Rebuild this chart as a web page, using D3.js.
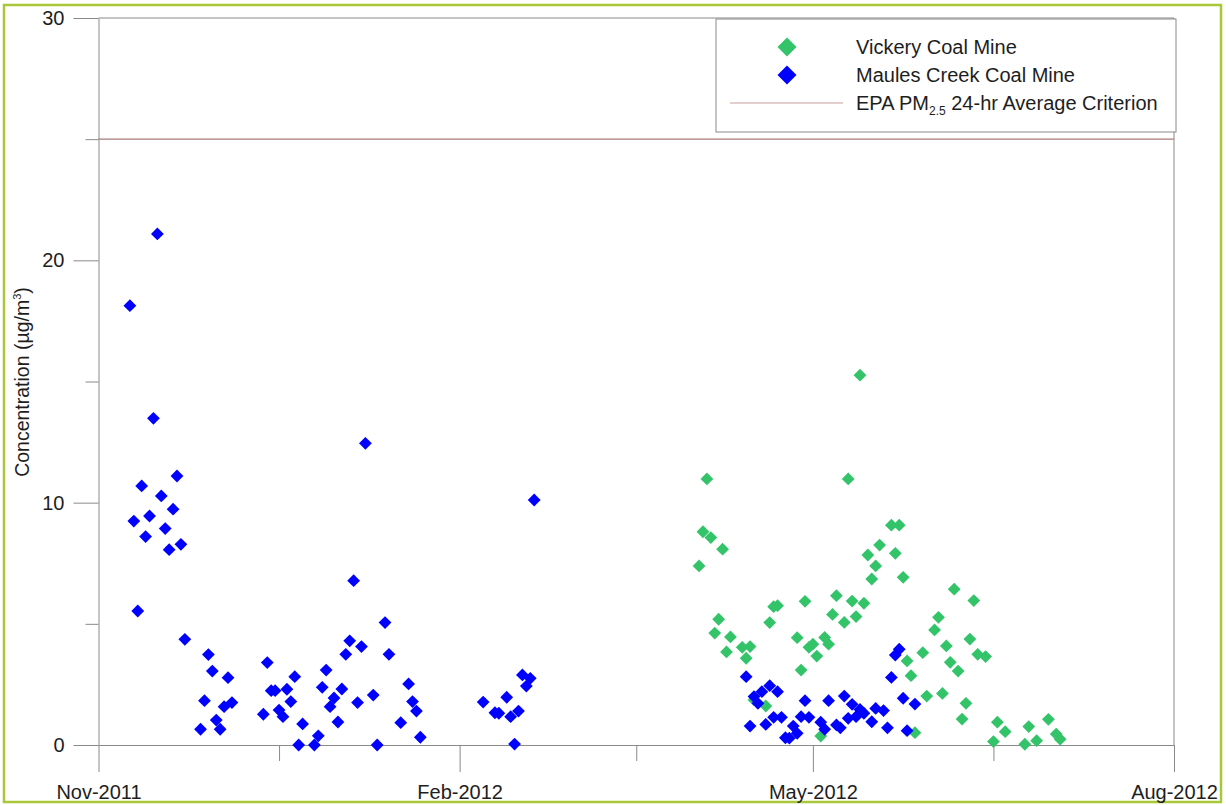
<!DOCTYPE html>
<html>
<head>
<meta charset="utf-8">
<script src="https://cdn.jsdelivr.net/npm/d3@7/dist/d3.min.js"></script>
<style>
  html, body { margin: 0; padding: 0; background: #fff; }
  svg { display: block; font-family: "Liberation Sans", Arial, sans-serif; }
</style>
</head>
<body>
<svg id="chart" width="1226" height="805"></svg>
<script>
// PM2.5 24-hour average concentrations (µg/m³) at two monitoring sites
const vickeryDates = [
  "2012-04-02","2012-04-03","2012-04-04","2012-04-05","2012-04-06","2012-04-07","2012-04-08",
  "2012-04-09","2012-04-10","2012-04-13","2012-04-14","2012-04-15","2012-04-16","2012-04-19",
  "2012-04-20","2012-04-21","2012-04-22","2012-04-27","2012-04-28","2012-04-29","2012-04-30",
  "2012-05-01","2012-05-02","2012-05-03","2012-05-04","2012-05-05","2012-05-06","2012-05-07",
  "2012-05-09","2012-05-10","2012-05-11","2012-05-12","2012-05-13","2012-05-14","2012-05-15",
  "2012-05-16","2012-05-17","2012-05-18","2012-05-21","2012-05-22","2012-05-23","2012-05-24",
  "2012-05-25","2012-05-26","2012-05-27","2012-05-29","2012-05-30","2012-06-01","2012-06-02",
  "2012-06-03","2012-06-04","2012-06-05","2012-06-06","2012-06-07","2012-06-08","2012-06-09",
  "2012-06-10","2012-06-11","2012-06-12","2012-06-14","2012-06-16","2012-06-17","2012-06-19",
  "2012-06-24","2012-06-25","2012-06-27","2012-06-30","2012-07-02","2012-07-03"
];
const vickeryValues = [
  7.39, 8.80, 10.98, 8.56, 4.62, 5.19, 8.08,
  3.84, 4.46, 4.03, 3.58, 4.06, 1.86, 1.61,
  5.05, 5.71, 5.75, 4.43, 3.09, 5.93, 4.03,
  4.16, 3.67, 0.37, 4.44, 4.16, 5.39, 6.16,
  5.06, 10.98, 5.94, 5.30, 15.26, 5.85, 7.84,
  6.85, 7.39, 8.25, 9.07, 7.91, 9.07, 6.92,
  3.47, 2.86, 0.51, 3.81, 2.02, 4.75, 5.27,
  2.13, 4.09, 3.41, 6.43, 3.05, 1.07, 1.72,
  4.37, 5.96, 3.74, 3.65, 0.14, 0.94, 0.55,
  0.03, 0.76, 0.18, 1.06, 0.45, 0.24
];

const maulesDates = [
  "2011-11-09","2011-11-10","2011-11-11","2011-11-12","2011-11-13","2011-11-14","2011-11-15",
  "2011-11-16","2011-11-17","2011-11-18","2011-11-19","2011-11-20","2011-11-21","2011-11-22",
  "2011-11-23","2011-11-27","2011-11-28","2011-11-29","2011-11-30","2011-12-01","2011-12-02",
  "2011-12-03","2011-12-04","2011-12-05","2011-12-13","2011-12-14","2011-12-15","2011-12-16",
  "2011-12-17","2011-12-18","2011-12-19","2011-12-20","2011-12-21","2011-12-22","2011-12-23",
  "2011-12-26","2011-12-27","2011-12-28","2011-12-29","2011-12-30","2011-12-31","2012-01-01",
  "2012-01-02","2012-01-03","2012-01-04","2012-01-05","2012-01-06","2012-01-07","2012-01-08",
  "2012-01-10","2012-01-11","2012-01-13","2012-01-14","2012-01-17","2012-01-19","2012-01-20",
  "2012-01-21","2012-01-22","2012-02-07","2012-02-10","2012-02-11","2012-02-13","2012-02-14",
  "2012-02-15","2012-02-16","2012-02-17","2012-02-18","2012-02-19","2012-02-20",
  "2012-04-14","2012-04-15","2012-04-16","2012-04-17","2012-04-18","2012-04-19","2012-04-20",
  "2012-04-21","2012-04-22","2012-04-23","2012-04-24","2012-04-25","2012-04-26","2012-04-27",
  "2012-04-28","2012-04-29","2012-04-30","2012-05-03","2012-05-04","2012-05-05","2012-05-07",
  "2012-05-08","2012-05-09","2012-05-10","2012-05-11","2012-05-12","2012-05-13","2012-05-14",
  "2012-05-16","2012-05-17","2012-05-19","2012-05-20","2012-05-21","2012-05-22","2012-05-23",
  "2012-05-24","2012-05-25","2012-05-27"
];
const maulesValues = [
  18.13, 9.24, 5.53, 10.69, 8.60, 9.45, 13.48,
  21.09, 10.28, 8.93, 8.06, 9.73, 11.10, 8.28,
  4.36, 0.65, 1.83, 3.73, 3.05, 1.03, 0.65,
  1.58, 2.78, 1.75, 1.27, 3.40, 2.24, 2.24,
  1.44, 1.17, 2.30, 1.79, 2.82, 0.00, 0.87,
  0.00, 0.38, 2.38, 3.09, 1.58, 1.94, 0.95,
  2.31, 3.74, 4.30, 6.78, 1.75, 4.06, 12.45,
  2.06, 0.00, 5.05, 3.74, 0.92, 2.52, 1.79,
  1.40, 0.32, 1.77, 1.33, 1.31, 1.97, 1.17,
  0.04, 1.40, 2.89, 2.43, 2.75, 10.11,
  2.82, 0.78, 2.00, 1.72, 2.20, 0.85, 2.45,
  1.14, 2.20, 1.14, 0.30, 0.28, 0.78, 0.48,
  1.17, 1.83, 1.14, 0.94, 0.65, 1.83, 0.83,
  0.71, 2.02, 1.10, 1.68, 1.17, 1.47, 1.31,
  0.96, 1.51, 1.42, 0.71, 2.79, 3.71, 3.95,
  1.93, 0.59, 1.69
];

const criterionValue = 25;
const xTickDates = ["2011-11-01", "2012-02-01", "2012-05-01", "2012-08-01"];
const yTickValues = [0, 10, 20, 30];
const yMinorTicks = [5, 15, 25];
const seriesNames = ["Vickery Coal Mine", "Maules Creek Coal Mine"];
const seriesColors = ["#33c46a", "#0000ff"];

const parse = d3.timeParse("%Y-%m-%d");
const fmt = d3.timeFormat("%b-%Y");

const svg = d3.select("#chart");
const axisColor = "#8a8a8a";
const textColor = "#1e1e1e";
const criterionColor = "#a97a7a";

// outer frame
svg.append("rect")
  .attr("x", 4).attr("y", 5).attr("width", 1217).attr("height", 797)
  .attr("fill", "#fff").attr("stroke", "#a8c83a").attr("stroke-width", 2.5);

const xTicks = xTickDates.map(parse);
const x = d3.scaleTime().domain([xTicks[0], xTicks[xTicks.length - 1]]).range([98.5, 1174]);
const y = d3.scaleLinear().domain([0, 30]).range([745, 18]);

// minor x ticks halfway between the labelled months
const xMinor = d3.pairs(xTicks).map(([a, b]) => new Date((+a + +b) / 2));

// plot frame: top and right edges
svg.append("path")
  .attr("d", `M${x.range()[0]},${y(30)}H${x.range()[1]}V${y(0)}`)
  .attr("fill", "none").attr("stroke", axisColor).attr("stroke-width", 1);

// criterion line
svg.append("line")
  .attr("x1", x.range()[0]).attr("x2", x.range()[1])
  .attr("y1", y(criterionValue)).attr("y2", y(criterionValue))
  .attr("stroke", criterionColor).attr("stroke-width", 1.2);

// y axis
svg.append("g").attr("transform", `translate(${x.range()[0]},0)`)
  .call(d3.axisLeft(y).tickValues(yTickValues).tickSize(25).tickSizeOuter(0).tickPadding(9));
svg.append("g").attr("transform", `translate(${x.range()[0]},0)`)
  .call(d3.axisLeft(y).tickValues(yMinorTicks).tickSize(13).tickSizeOuter(0).tickFormat(""))
  .select(".domain").remove();

// x axis
svg.append("g").attr("transform", `translate(0,${y(0)})`)
  .call(d3.axisBottom(x).tickValues(xTicks).tickFormat(fmt).tickSize(27).tickSizeOuter(0).tickPadding(13));
svg.append("g").attr("transform", `translate(0,${y(0)})`)
  .call(d3.axisBottom(x).tickValues(xMinor).tickSize(16).tickSizeOuter(0).tickFormat(""))
  .select(".domain").remove();

svg.selectAll(".domain, .tick line").attr("stroke", axisColor).attr("stroke-width", 1);
svg.selectAll(".tick text").attr("fill", textColor).style("font-size", "20px")
  .style("font-family", "'Liberation Sans', Arial, sans-serif");

// y axis title
const title = svg.append("text")
  .attr("transform", "translate(29,382) rotate(-90)")
  .attr("text-anchor", "middle")
  .attr("fill", textColor)
  .style("font-size", "19.5px");
title.append("tspan").text("Concentration (µg/m");
title.append("tspan").text("3").style("font-size", "11px").attr("dy", -8);
title.append("tspan").text(")").attr("dy", 8);

// points
const diamond = (size) => d3.symbol().type(d3.symbolSquare).size(size)();
const series = [
  { name: seriesNames[0], color: seriesColors[0], dates: vickeryDates, values: vickeryValues },
  { name: seriesNames[1], color: seriesColors[1], dates: maulesDates, values: maulesValues }
];
series.forEach(s => {
  const pts = s.dates.map((d, i) => ({ date: parse(d), value: s.values[i] }));
  svg.append("g").selectAll("path").data(pts).join("path")
    .attr("d", diamond(82))
    .attr("transform", d => `translate(${x(d.date)},${y(d.value)}) rotate(45)`)
    .attr("fill", s.color);
});

// legend
const lg = svg.append("g");
lg.append("rect").attr("x", 716).attr("y", 19).attr("width", 460).attr("height", 113)
  .attr("fill", "#fff").attr("stroke", "#8a8a8a").attr("stroke-width", 1);
series.forEach((s, i) => {
  const cy = 47 + i * 28;
  lg.append("path").attr("d", diamond(180))
    .attr("transform", `translate(787,${cy}) rotate(45)`).attr("fill", s.color);
  lg.append("text").attr("x", 856).attr("y", cy).attr("dy", "0.35em")
    .attr("fill", textColor).style("font-size", "20px").text(s.name);
});
lg.append("line").attr("x1", 730).attr("x2", 843).attr("y1", 103).attr("y2", 103)
  .attr("stroke", "#c9a0a0").attr("stroke-width", 1.2);
const lt = lg.append("text").attr("x", 856).attr("y", 103).attr("dy", "0.35em")
  .attr("fill", textColor).style("font-size", "20px");
lt.append("tspan").text("EPA PM");
lt.append("tspan").text("2.5").style("font-size", "12px").attr("dy", 5);
lt.append("tspan").text(" 24-hr Average Criterion").attr("dy", -5);
</script>
</body>
</html>
